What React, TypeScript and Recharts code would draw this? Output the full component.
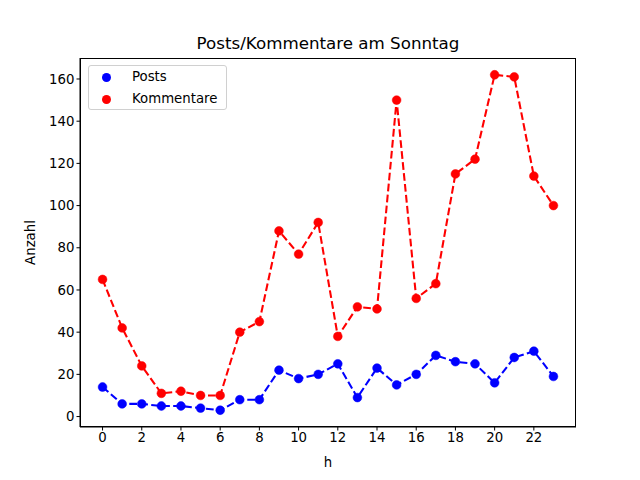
import React from "react";
import { LineChart, Line, XAxis, YAxis, Legend } from "recharts";

const hours = [0,1,2,3,4,5,6,7,8,9,10,11,12,13,14,15,16,17,18,19,20,21,22,23];
const posts = [14,6,6,5,5,4,3,8,8,22,18,20,25,9,23,15,20,29,26,25,16,28,31,19];
const kommentare = [65,42,24,11,12,10,10,40,45,88,77,92,38,52,51,150,56,63,115,122,162,161,114,100];
const xTicks = [0,2,4,6,8,10,12,14,16,18,20,22];
const yTicks = [0,20,40,60,80,100,120,140,160];

const data = hours.map((h, i) => ({ h, posts: posts[i], kommentare: kommentare[i] }));

const FONT = "DejaVu Sans, sans-serif";

const makeDot = (color: string) => (props: any) => {
  const { cx, cy, key } = props;
  if (cx == null || cy == null) return <g key={key} />;
  return <circle key={key} cx={cx} cy={cy} r={4.4} fill={color} stroke={color} strokeWidth={0.5} />;
};

const LegendBox = () => (
  <div
    style={{
      position: "absolute",
      left: 88,
      top: 65,
      width: 139,
      height: 45,
      border: "1px solid #d0d0d0",
      borderRadius: 3,
      background: "rgba(255,255,255,0.8)",
      fontFamily: FONT,
      fontSize: 13.3,
      boxSizing: "border-box",
    }}
  >
    {[
      { label: "Posts", color: "#0000ff", top: 2 },
      { label: "Kommentare", color: "#ff0000", top: 24 },
    ].map((e) => (
      <div key={e.label} style={{ position: "absolute", left: 0, top: e.top, height: 18, width: 137 }}>
        <div
          style={{
            position: "absolute",
            left: 13,
            top: 4.5,
            width: 9,
            height: 9,
            borderRadius: "50%",
            background: e.color,
          }}
        />
        <div style={{ position: "absolute", left: 43, top: 0, lineHeight: "18px", color: "#000" }}>{e.label}</div>
      </div>
    ))}
  </div>
);

export default function App() {
  return (
    <div style={{ position: "absolute", left: 0, top: 0, width: 640, height: 480, background: "#fff" }}>
      <div
        style={{
          position: "absolute",
          left: 80,
          width: 496,
          top: 33,
          textAlign: "center",
          fontFamily: FONT,
          fontSize: 16.7,
          color: "#000",
          lineHeight: "20px",
        }}
      >
        Posts/Kommentare am Sonntag
      </div>
      <LineChart
        width={640}
        height={480}
        data={data}
        margin={{ top: 58, right: 64, bottom: 0, left: 0 }}
      >
        <XAxis
          dataKey="h"
          type="number"
          domain={[-1.15, 24.15]}
          ticks={xTicks}
          allowDataOverflow
          height={53}
          tickSize={3.5}
          tickMargin={2}
          stroke="#000"
          tick={{ fill: "#000", fontFamily: FONT, fontSize: 13.3 }}
          axisLine={{ stroke: "#000", strokeWidth: 1 }}
          tickLine={{ stroke: "#000", strokeWidth: 1 }}
          label={{ value: "h", position: "insideBottom", offset: 13, fill: "#000", fontFamily: FONT, fontSize: 13.3 }}
        />
        <YAxis
          type="number"
          domain={[-4.95, 169.95]}
          ticks={yTicks}
          allowDataOverflow
          width={80}
          tickSize={3.5}
          tickMargin={2}
          stroke="#000"
          tick={{ fill: "#000", fontFamily: FONT, fontSize: 13.3 }}
          axisLine={{ stroke: "#000", strokeWidth: 1 }}
          tickLine={{ stroke: "#000", strokeWidth: 1 }}
          label={{
            value: "Anzahl",
            angle: -90,
            position: "insideLeft",
            offset: 30,
            style: { textAnchor: "middle" },
            fill: "#000",
            fontFamily: FONT,
            fontSize: 13.3,
          }}
        />
        <Legend content={() => <LegendBox />} wrapperStyle={{ position: "absolute", left: 0, top: 0, width: 0, height: 0 }} />
        <Line
          dataKey="posts"
          name="Posts"
          stroke="#0000ff"
          strokeWidth={2.08}
          strokeDasharray="7.7 3.3"
          dot={makeDot("#0000ff")}
          activeDot={false}
          isAnimationActive={false}
          type="linear"
        />
        <Line
          dataKey="kommentare"
          name="Kommentare"
          stroke="#ff0000"
          strokeWidth={2.08}
          strokeDasharray="7.7 3.3"
          dot={makeDot("#ff0000")}
          activeDot={false}
          isAnimationActive={false}
          type="linear"
        />
      </LineChart>
      <div
        style={{
          position: "absolute",
          left: 80,
          top: 58,
          width: 496,
          height: 369,
          border: "1px solid #000",
          boxSizing: "border-box",
          pointerEvents: "none",
        }}
      />
    </div>
  );
}
